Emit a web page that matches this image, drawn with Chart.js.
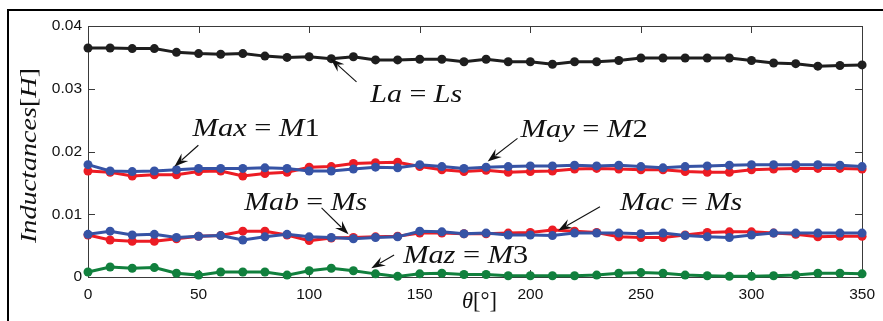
<!DOCTYPE html>
<html>
<head>
<meta charset="utf-8">
<script src="https://cdn.jsdelivr.net/npm/chart.js@4"></script>
<style>
  html, body { margin: 0; padding: 0; background: #fff; }
  #wrap { width: 883px; height: 321px; }
</style>
</head>
<body>
<div id="wrap"><canvas id="chart" width="883" height="321"></canvas></div>
<script>
// rotor angle (degrees)
const angles = [0,10,20,30,40,50,60,70,80,90,100,110,120,130,140,150,160,170,
                180,190,200,210,220,230,240,250,260,270,280,290,300,310,320,330,340,350];

// inductances [H]
const laLs  = [0.0365,0.0365,0.0364,0.0364,0.0358,0.0356,0.0355,0.0356,0.0352,0.0350,
               0.0351,0.0348,0.0351,0.0346,0.0346,0.0347,0.0347,0.0343,0.0347,0.0343,
               0.0343,0.0339,0.0343,0.0343,0.0345,0.0349,0.0349,0.0349,0.0349,0.0349,
               0.0345,0.0341,0.0340,0.0336,0.0337,0.0338];
const maxM1 = [0.0169,0.0167,0.0161,0.0163,0.0163,0.0168,0.0169,0.0161,0.0165,0.0167,
               0.0175,0.0176,0.0181,0.0182,0.0183,0.0176,0.0171,0.0168,0.0170,0.0167,
               0.0168,0.0169,0.0172,0.0173,0.0172,0.0171,0.0171,0.0168,0.0167,0.0167,
               0.0171,0.0172,0.0173,0.0173,0.0173,0.0172];
const mayM2 = [0.0179,0.0169,0.0168,0.0169,0.0171,0.0173,0.0173,0.0173,0.0174,0.0173,
               0.0169,0.0169,0.0172,0.0175,0.0174,0.0179,0.0176,0.0173,0.0175,0.0176,
               0.0177,0.0177,0.0178,0.0177,0.0178,0.0176,0.0174,0.0176,0.0177,0.0178,
               0.0179,0.0179,0.0179,0.0179,0.0178,0.0176];
const mabMs = [0.0068,0.0073,0.0067,0.0068,0.0063,0.0065,0.0066,0.0059,0.0064,0.0068,
               0.0064,0.0063,0.0061,0.0063,0.0064,0.0073,0.0072,0.0069,0.0070,0.0067,
               0.0067,0.0066,0.0070,0.0070,0.0070,0.0069,0.0070,0.0066,0.0064,0.0063,
               0.0067,0.0070,0.0070,0.0070,0.0070,0.0070];
const macMs = [0.0067,0.0059,0.0057,0.0057,0.0061,0.0065,0.0066,0.0073,0.0073,0.0067,
               0.0058,0.0062,0.0063,0.0064,0.0065,0.0070,0.0070,0.0069,0.0069,0.0070,
               0.0071,0.0075,0.0073,0.0071,0.0064,0.0063,0.0063,0.0067,0.0071,0.0072,
               0.0072,0.0070,0.0068,0.0064,0.0065,0.0065];
const mazM3 = [0.0008,0.0016,0.0014,0.0015,0.0006,0.0003,0.0008,0.0008,0.0008,0.0003,
               0.0010,0.0014,0.0010,0.0005,0.0001,0.0005,0.0006,0.0004,0.0004,0.0002,
               0.0002,0.0002,0.0002,0.0003,0.0006,0.0007,0.0006,0.0003,0.0002,0.0001,
               0.0001,0.0002,0.0003,0.0006,0.0006,0.0005];

const xTicks = [0,50,100,150,200,250,300,350];
const yTicks = [0,0.01,0.02,0.03,0.04];

// text labels with arrows, in data units (theta, H); w = text width in px
const notes = [
  { text: 'La = Ls',  x: 127.6, y: 0.0279, w: 92,  tail: [121.4, 0.0311], tip: [109.7, 0.0348] },
  { text: 'Max = M1', x: 47.3,  y: 0.0224, w: 127, tail: [49.9, 0.0210],  tip: [39.1, 0.0176] },
  { text: 'May = M2', x: 195.6, y: 0.0223, w: 127, tail: [194.2, 0.0221], tip: [180.7, 0.0184] },
  { text: 'Mab = Ms', x: 70.6,  y: 0.0107, w: 123, tail: [105.6, 0.0110], tip: [117.8, 0.0068] },
  { text: 'Mac = Ms', x: 240.6, y: 0.0107, w: 122, tail: [231.5, 0.0112], tip: [212.6, 0.0074] },
  { text: 'Maz = M3', x: 142.5, y: 0.0022, w: 125, tail: [138.4, 0.0035], tip: [128.1, 0.0014] }
];

const BLACK = '#1e1e1e', RED = '#ec1c24', BLUE = '#3653a5', GREEN = '#11803d';

function series(label, vals, color) {
  return {
    label: label,
    data: angles.map((a, i) => ({ x: a, y: vals[i] })),
    borderColor: color,
    backgroundColor: color,
    borderWidth: 3,
    pointRadius: 4.5,
    pointBorderWidth: 0,
    pointBackgroundColor: color,
    tension: 0,
    clip: false
  };
}

// letters italic, digits / symbols upright, like latex math
function drawMath(c, str, size, width) {
  const runs = str.match(/[A-Za-z\u03b8]+|[^A-Za-z\u03b8]+/g);
  const fonts = runs.map(r => (/[A-Za-z\u03b8]/.test(r) ? 'italic ' : '') + size + 'px "Liberation Serif", "DejaVu Serif", serif');
  let total = 0;
  runs.forEach((r, i) => { c.font = fonts[i]; total += c.measureText(r).width; });
  c.scale(width / total, 1);
  let cx = 0;
  runs.forEach((r, i) => { c.font = fonts[i]; c.fillText(r, cx, 0); cx += c.measureText(r).width; });
}

function arrow(c, x0, y0, x1, y1) {
  const a = Math.atan2(y1 - y0, x1 - x0), L = 14, W = 5;
  c.beginPath();
  c.moveTo(x0, y0);
  c.lineTo(x1 - Math.cos(a) * L * 0.7, y1 - Math.sin(a) * L * 0.7);
  c.stroke();
  c.save();
  c.translate(x1, y1);
  c.rotate(a);
  c.beginPath();
  c.moveTo(0, 0);
  c.lineTo(-L, -W);
  c.lineTo(-L * 0.65, 0);
  c.lineTo(-L, W);
  c.closePath();
  c.fill();
  c.restore();
}

const overlay = {
  id: 'overlay',
  beforeDraw(chart) {
    const c = chart.ctx;
    c.save();
    c.fillStyle = '#fff';
    c.fillRect(0, 0, chart.width, chart.height);
    // outer figure frame (cropped at right / bottom)
    c.fillStyle = '#000';
    c.fillRect(7, 9, chart.width - 7, 2);
    c.fillRect(7, 9, 2, chart.height - 9);
    c.restore();
  },
  beforeDatasetsDraw(chart) {
    const c = chart.ctx, a = chart.chartArea;
    const xs = chart.scales.x, ys = chart.scales.y;
    c.save();
    c.strokeStyle = '#3a3a3a';
    c.lineWidth = 1;
    c.strokeRect(Math.round(a.left) + 0.5, Math.round(a.top) + 0.5,
                 Math.round(a.right - a.left), Math.round(a.bottom - a.top));
    c.beginPath();
    xTicks.forEach(v => {
      const px = Math.round(xs.getPixelForValue(v)) + 0.5;
      c.moveTo(px, a.bottom); c.lineTo(px, a.bottom - 7);
      c.moveTo(px, a.top);    c.lineTo(px, a.top + 7);
    });
    yTicks.forEach(v => {
      const py = Math.round(ys.getPixelForValue(v)) + 0.5;
      c.moveTo(a.left, py);  c.lineTo(a.left + 7, py);
      c.moveTo(a.right, py); c.lineTo(a.right - 7, py);
    });
    c.stroke();
    c.restore();
  },
  afterDraw(chart) {
    const c = chart.ctx;
    const xs = chart.scales.x, ys = chart.scales.y;
    c.save();
    c.fillStyle = '#111';
    c.strokeStyle = '#111';
    c.lineWidth = 1.1;
    c.textBaseline = 'alphabetic';
    notes.forEach(n => {
      arrow(c, xs.getPixelForValue(n.tail[0]), ys.getPixelForValue(n.tail[1]),
               xs.getPixelForValue(n.tip[0]), ys.getPixelForValue(n.tip[1]));
      c.save();
      c.translate(xs.getPixelForValue(n.x), ys.getPixelForValue(n.y));
      drawMath(c, n.text, 26, n.w);
      c.restore();
    });
    // axis titles
    c.save();
    c.translate(462, 308);
    drawMath(c, '\u03b8[\u00b0]', 24, 35);
    c.restore();
    c.save();
    c.translate(36, 243);
    c.rotate(-Math.PI / 2);
    drawMath(c, 'Inductances[H]', 23, 175);
    c.restore();
    c.restore();
  }
};

const tickFont = { family: '"Liberation Sans", Arial, sans-serif', size: 15.5 };

new Chart(document.getElementById('chart').getContext('2d'), {
  type: 'line',
  data: {
    datasets: [
      series('La = Ls', laLs, BLACK),
      series('Maz = M3', mazM3, GREEN),
      series('May = M2', mayM2, BLUE),
      series('Mab = Ms', mabMs, BLUE),
      series('Max = M1', maxM1, RED),
      series('Mac = Ms', macMs, RED)
    ]
  },
  options: {
    responsive: false,
    animation: false,
    devicePixelRatio: 1,
    layout: { padding: { top: 26, right: 16, left: 0, bottom: 0 } },
    plugins: { legend: { display: false }, tooltip: { enabled: false } },
    scales: {
      x: {
        type: 'linear',
        min: 0,
        max: 350,
        afterBuildTicks: s => { s.ticks = xTicks.map(v => ({ value: v })); },
        ticks: { padding: 8, color: '#111', font: tickFont, maxRotation: 0 },
        grid: { display: false, drawTicks: false },
        border: { display: false },
        afterFit: s => { s.height = 44; }
      },
      y: {
        min: 0,
        max: 0.04,
        afterBuildTicks: s => { s.ticks = yTicks.map(v => ({ value: v })); },
        ticks: {
          padding: 6,
          color: '#111',
          font: tickFont,
          callback: v => (v === 0 ? '0' : v.toFixed(2))
        },
        grid: { display: false, drawTicks: false },
        border: { display: false },
        afterFit: s => { s.width = 88; }
      }
    }
  },
  plugins: [overlay]
});
</script>
</body>
</html>
